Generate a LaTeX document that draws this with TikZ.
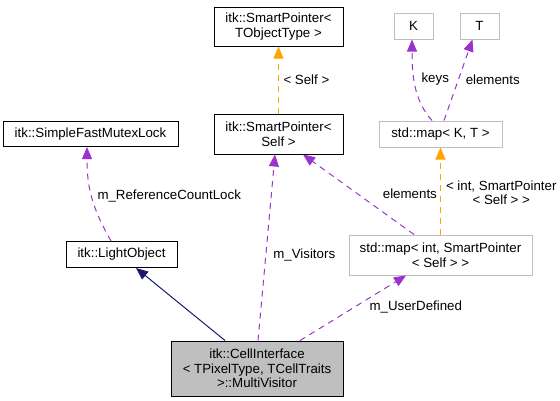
\documentclass[tikz,border=0pt]{standalone}
\usepackage{fontspec}
\setmainfont{Liberation Sans}
\usetikzlibrary{arrows.meta, positioning}
\definecolor{useline}{HTML}{9A32CD}
\definecolor{tmplline}{HTML}{FFA500}
\definecolor{inheline}{HTML}{191970}
\definecolor{boxgray}{HTML}{BFBFBF}
\newcommand{\dgfont}{\fontsize{13.3}{14.5}\selectfont}
\tikzstyle{classbox} = [rectangle, draw=black, fill=white, line width=1pt, text centered, align=center, inner sep=2pt, font=\dgfont]
\tikzstyle{tmplbox} = [classbox, draw=boxgray]
\tikzstyle{curbox} = [classbox, fill=boxgray]
\tikzstyle{usearrow} = [draw=useline, line width=1pt, dash pattern=on 6pt off 5pt, -{Triangle[length=12pt,width=10pt]}]
\tikzstyle{tmplarrow} = [usearrow, draw=tmplline]
\tikzstyle{inhearrow} = [draw=inheline, line width=1pt, -{Triangle[length=12pt,width=10pt]}]
\tikzstyle{lbl} = [font=\dgfont, inner sep=2pt, align=center, text=black]

\begin{document}
\begin{tikzpicture}
\useasboundingbox (0,0) rectangle (560pt,-400pt);

% Nodi
\node (spt) [classbox, minimum width=129pt, minimum height=39pt] at (278.5pt,-26.5pt) {itk::SmartPointer<\\ TObjectType >};
\node (sps) [classbox, minimum width=129pt, minimum height=40pt, below=67pt of spt] {itk::SmartPointer<\\ Self >};
\node (sfml) [classbox, minimum width=175pt, minimum height=25pt, left=35pt of sps] {itk::SimpleFastMutexLock};
\node (mapkt) [tmplbox, minimum width=123pt, minimum height=26pt, right=35pt of sps] {std::map< K, T >};
\node (k) [tmplbox, minimum width=39pt, minimum height=26pt, above=81pt of mapkt, xshift=-27pt] {K};
\node (t) [tmplbox, minimum width=39pt, minimum height=26pt, right=26pt of k] {T};
\node (mapint) [tmplbox, minimum width=183pt, minimum height=40pt, below=87pt of mapkt] {std::map< int, SmartPointer\\ < Self > >};
\node (lo) [classbox, minimum width=111pt, minimum height=26pt, below=94pt of sfml, xshift=31pt] {itk::LightObject};
\node (ci) [curbox, minimum width=172pt, minimum height=55pt, below=186pt of sps, xshift=-21.5pt] {itk::CellInterface\\ < TPixelType, TCellTraits\\ >::MultiVisitor};

% Ereditarieta
\draw [inhearrow] ([xshift=-32pt]ci.north) -- ([xshift=14.5pt]lo.south);

% Uso
\draw [usearrow] ([xshift=1pt]ci.north) -- node[lbl, anchor=west, pos=0.46, xshift=5pt] {m\_Visitors} ([xshift=-3.5pt]sps.south);
\draw [usearrow] ([xshift=43pt]ci.north) -- node[lbl, anchor=west, pos=0.52, xshift=12pt] {m\_UserDefined} ([xshift=-34.5pt]mapint.south);
\draw [usearrow] ([xshift=-10.5pt]lo.north) .. controls +(-20pt,35pt) and +(0,-39pt) .. node[lbl, anchor=west, pos=0.5, xshift=3.5pt] {m\_ReferenceCountLock} ([xshift=-3.5pt]sfml.south);
\draw [usearrow] ([xshift=-26.5pt]mapint.north) -- node[lbl, anchor=west, pos=0.51, xshift=23pt] {elements} ([xshift=24.5pt]sps.south);
\draw [usearrow] ([xshift=-8.5pt]mapkt.north) .. controls +(-18pt,20pt) and +(0,-36pt) .. node[lbl, anchor=west, pos=0.58, xshift=5pt] {keys} ([xshift=-1.5pt]k.south);
\draw [usearrow] ([xshift=3.5pt]mapkt.north) -- node[lbl, anchor=west, pos=0.5, xshift=5pt] {elements} ([xshift=-7pt]t.south);

% Template
\draw [tmplarrow] (sps) -- node[lbl, anchor=west, xshift=2.5pt] {< Self >} (spt);
\draw [tmplarrow] (mapint) -- node[lbl, anchor=west, pos=0.48, xshift=3pt] {< int, SmartPointer\\ < Self > >} (mapkt);

\end{tikzpicture}
\end{document}
